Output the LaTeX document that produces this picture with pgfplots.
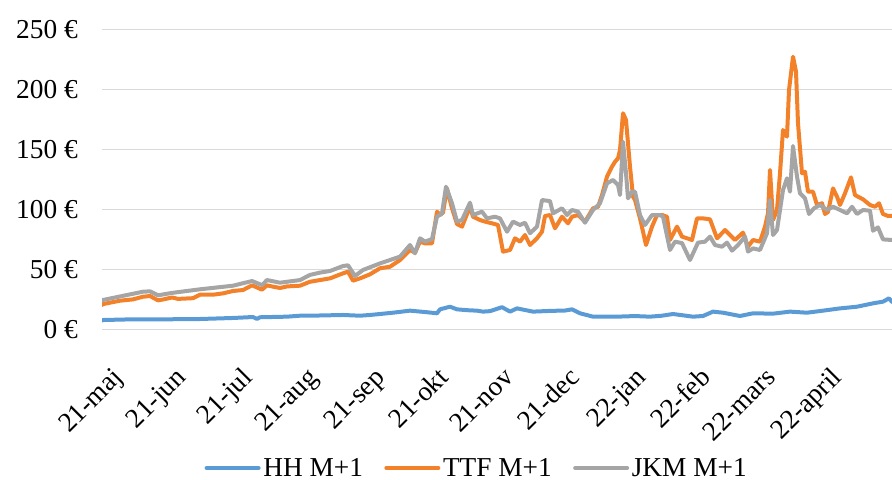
\documentclass[border=0pt]{standalone}
\usepackage{fontspec}
\setmainfont{Liberation Serif}
\usepackage{pgfplots}
\pgfplotsset{compat=1.18}
\definecolor{hh}{HTML}{5B9BD5}
\definecolor{ttf}{HTML}{F2812A}
\definecolor{jkm}{HTML}{A5A5A5}
\definecolor{gridc}{HTML}{D9D9D9}
\begin{document}
\begin{tikzpicture}
\useasboundingbox (0,0) rectangle (669pt,359.25pt);
\begin{axis}[
  at={(76.5pt,112.125pt)}, anchor=south west,
  scale only axis, width=592.5pt, height=225pt,
  xmin=102, xmax=892, ymin=0, ymax=250,
  axis line style={draw=none}, tick style={draw=none},
  ytick={0,50,100,150,200,250},
  yticklabels={0 €,50 €,100 €,150 €,200 €,250 €},
  ymajorgrids, grid style={gridc, line width=1pt},
  xtick={124,187,254,319,386,450,515,581,647,712,777,843},
  xticklabels={21-maj,21-jun,21-jul,21-aug,21-sep,21-okt,21-nov,21-dec,22-jan,22-feb,22-mars,22-april},
  tick label style={font=\fontsize{20.5}{23}\selectfont, inner sep=0pt},
  yticklabel shift=18pt,
  xticklabel shift=37pt,
  xticklabel style={rotate=45, anchor=base east},
  legend style={draw=none, fill=none, at={(0.4747,-0.4617)}, anchor=center,
    font=\fontsize{20.5}{23}\selectfont, nodes={inner xsep=2pt},
    /tikz/every even column/.append style={column sep=14pt}},
  legend columns=3,
  legend image code/.code={\draw[#1] (0pt,0pt) -- (39pt,0pt);},
  every axis plot/.append style={line width=3pt, line join=round, line cap=round},
]
\addplot[hh] coordinates {
(102,7.5) (103,7.9) (133,8.5) (167,8.5) (200,8.75) (233,9.6) (253,10.4) (257,8.8) (260,10.2)
(287,10.7) (300,11.5) (310,11.5) (343,12.1) (360,11.5) (370,12.1) (393,14) (410,15.7) (427,14.4)
(437,13.5) (440,16.8) (450,19) (457,16.8) (467,16.1) (477,15.7) (483,14.9) (490,15.3) (502,18.6)
(510,14.9) (517,17.6) (533,14.9) (550,15.5) (565,15.8) (572,16.8) (580,13.5) (593,10.7) (617,10.7)
(635,11.2) (650,10.7) (662,11.5) (673,12.9) (685,11.6) (693,10.7) (703,11.25) (713,14.9) (723,14)
(740,11.25) (753,13.5) (773,13.2) (790,14.9) (807,14) (823,15.7) (840,17.6) (857,19) (873,21.8)
(883,23.2) (889,26) (892,23)
};
\addlegendentry{HH M+1}
\addplot[ttf] coordinates {
(102,20.5) (103,21.2) (120,24) (133,25.1) (143,27.3) (150,27.9) (158,24.3) (163,25) (172,26.7)
(178,25.5) (193,26.1) (200,29) (213,29) (223,30.1) (233,32.1) (243,32.9) (252,36.8) (262,33.2)
(267,36.8) (273,35.7) (280,34.6) (287,35.9) (300,36.5) (310,39.8) (320,41.2) (330,42.6) (343,46.8)
(348,48.2) (353,40.7) (360,42.6) (370,46) (380,51) (390,52.3) (400,57.9) (410,66.25) (415,64)
(420,73.2) (425,71.8) (432,71.8) (437,98.2) (440,95.4) (443,97.4) (447,117.6) (452,101) (457,87.9)
(462,85.7) (470,102.3) (473,94) (480,91.25) (485,89.9) (492,88.5) (498,87.1) (503,64.9) (510,66.25)
(515,76) (520,73.2) (525,78.75) (530,70.4) (537,76) (542,81.5) (545,94.6) (550,95.4) (555,84.3)
(562,94) (568,88.5) (572,94) (578,95.4) (585,89.9) (593,101) (598,102.3) (602,112) (607,127.4)
(612,135.7) (615,139.8) (618,142.6) (620,149.6) (623,180.2) (626,174.6) (630,135.7) (633,110.7)
(635,107.9) (640,92.6) (646,70.4) (652,85.7) (657,95.4) (662,95.4) (667,94) (670,74.6) (677,85.7)
(682,77.4) (692,74.6) (697,92.6) (703,92.6) (710,91.8) (717,76) (725,82.9) (735,74.6) (743,80.7)
(748,69) (753,74.6) (760,73.2) (765,85.7) (768,96.8) (770,132.9) (773,91.25) (777,99.6) (780,130.2)
(783,166.25) (787,160.7) (789,199.6) (793,227.3) (796,214.8) (798,171.8) (802,130.2) (805,131.5)
(808,114.8) (813,114.8) (817,103.75) (822,105.2) (825,96.25) (828,98) (833,117.6) (837,110.7)
(840,103.75) (845,113.5) (851,126.8) (855,112) (863,108.5) (870,103.75) (875,102.3) (879,105.2)
(883,96.25) (888,94.6) (892,94.6)
};
\addlegendentry{TTF M+1}
\addplot[jkm] coordinates {
(102,24) (103,24.6) (143,31.5) (150,31.8) (158,28.5) (172,30.5) (200,33.5) (233,36.5) (252,40.4)
(262,37) (267,41.2) (280,39) (300,41.2) (310,45.5) (320,47.4) (330,48.75) (343,52.9) (348,53.5)
(355,44.6) (363,49.6) (380,55.1) (390,57.9) (400,60.7) (410,70.4) (415,63.5) (420,76) (425,73.2)
(432,75.4) (437,94) (442,96.8) (446,119) (452,105.2) (457,89.9) (462,91.25) (470,105.7) (473,95.4)
(482,98.2) (487,92.6) (495,94) (500,92.6) (507,81.5) (513,89.9) (520,87.1) (525,89) (530,80.2)
(537,85.7) (542,107.9) (550,107) (553,96.8) (562,101) (567,95.4) (572,99.6) (578,98.2) (585,89)
(593,99.6) (600,105.2) (607,121.8) (613,124.6) (618,120.4) (620,112) (623,156.5) (626,130.2)
(628,109.3) (632,114.8) (635,114.8) (640,95.4) (645,87.1) (652,95.4) (660,95.4) (663,94) (670,66.25)
(675,73.2) (682,72) (690,57.9) (698,72.4) (705,73.2) (710,77.4) (715,70.4) (722,69) (727,72.4)
(732,65.7) (738,70.4) (745,77.4) (748,64.9) (753,67.6) (760,66.25) (767,80.2) (770,107.9) (773,78.75)
(777,82.9) (783,116.25) (787,126) (790,114.8) (793,152.9) (797,127.4) (800,113.5) (805,109.3)
(809,96.25) (814,101) (820,103.75) (827,99.6) (833,102.3) (840,99.6) (847,96.8) (852,102.3)
(857,96.25) (863,99.6) (870,99) (873,82.3) (878,85.1) (883,75.1) (892,74.6)
};
\addlegendentry{JKM M+1}
\end{axis}
\end{tikzpicture}
\end{document}
